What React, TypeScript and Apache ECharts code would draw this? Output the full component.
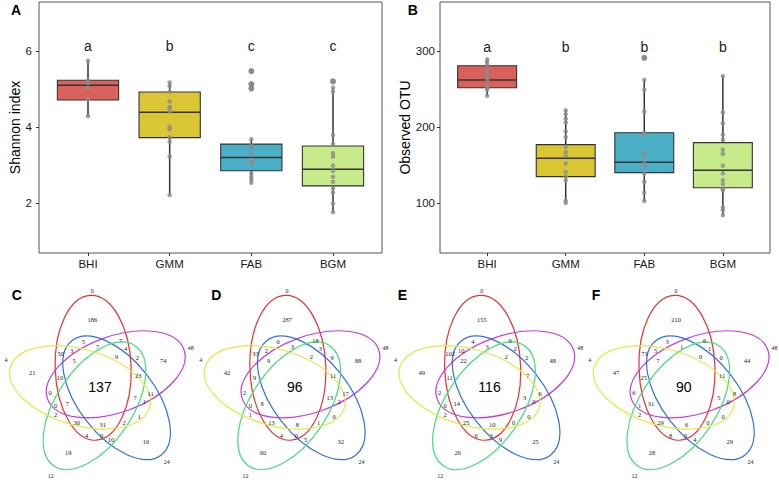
import React, { useEffect, useRef } from 'react';
import * as echarts from 'echarts';

// ---------- Data ----------
const categories = ['BHI', 'GMM', 'FAB', 'BGM'];
const boxColors = ['#D9605B', '#DAC633', '#4AAFC7', '#C7EB8B'];

// Panel A: Shannon index
const shannonLow = [4.29, 2.21, 2.53, 1.76];
const shannonQ1 = [4.71, 3.72, 2.85, 2.45];
const shannonMedian = [5.1, 4.39, 3.2, 2.89];
const shannonQ3 = [5.23, 4.92, 3.55, 3.5];
const shannonHigh = [5.74, 5.17, 3.68, 5.04];
const shannonPoints = [
  [5.74, 5.21, 5.15, 5.02, 4.73, 4.29],
  [5.17, 5.08, 4.93, 4.67, 4.53, 4.49, 4.4, 4.01, 3.94, 3.73, 3.61, 3.22, 2.21],
  [5.47, 5.13, 5.01, 3.68, 3.51, 3.46, 3.29, 3.13, 3.06, 3.02, 2.78, 2.69, 2.61, 2.53],
  [5.2, 5.04, 4.93, 3.79, 3.55, 3.31, 3.22, 2.98, 2.85, 2.69, 2.56, 2.39, 2.27, 1.99, 1.76],
];
const shannonOutliers = [[], [], [5.47, 5.13, 5.01], [5.2]];
const shannonLetters = ['a', 'b', 'c', 'c'];
const shannonLetterY = 6.12;
const shannonTicks = [2, 4, 6];

// Panel B: Observed OTU
const otuLow = [241, 100.4, 102.6, 83.8];
const otuQ1 = [251.7, 134.7, 140, 120];
const otuMedian = [261.8, 158.8, 153.6, 143];
const otuQ3 = [280.7, 176.8, 192.5, 179.4];
const otuHigh = [289, 222, 262, 267];
const otuPoints = [
  [289, 286, 282, 275, 270, 267, 262, 255, 252, 249, 241],
  [222, 217, 211, 206, 194, 186.5, 174, 167, 162, 152, 141, 135, 130, 103, 100],
  [291, 262, 249, 220, 192.5, 189.5, 167.5, 161, 152, 148, 139, 128, 113.6, 102.6],
  [267, 219, 205, 190, 183, 170, 164.5, 149, 139, 130, 124.6, 118, 117, 94, 90.8, 83.8],
];
const otuOutliers = [[], [], [291], []];
const otuLetters = ['a', 'b', 'b', 'b'];
const otuLetterY = 305.7;
const otuTicks = [100, 200, 300];

// Venn diagrams (C-F): set names and region counts
const vennSetNames = ['0', '48', '24', '12', '4'];
const vennSetColors = ['#E8322E', '#C63CDB', '#3470E0', '#45DE7A', '#E0EA48'];
const vennPanelLetters = ['C', 'D', 'E', 'F'];
const vennC = [186, 74, 16, 19, 21, 137, 5, 7, 50, 3, 7, 4, 9, 2, 5, 10, 23, 11, 0, 7, 1, 0, 7, 2, 1, 30, 31, 2, 4, 0, 10];
const vennD = [287, 88, 32, 60, 42, 96, 0, 18, 33, 2, 3, 3, 2, 9, 9, 9, 11, 17, 2, 13, 2, 0, 8, 1, 0, 13, 8, 1, 4, 0, 5];
const vennE = [155, 48, 25, 26, 49, 116, 4, 9, 102, 10, 3, 2, 2, 2, 22, 11, 7, 6, 2, 3, 0, 0, 14, 2, 0, 25, 10, 0, 6, 3, 9];
const vennF = [210, 44, 29, 28, 47, 90, 3, 6, 73, 5, 1, 1, 0, 0, 7, 25, 11, 8, 6, 5, 0, 1, 31, 2, 0, 29, 6, 0, 8, 0, 4];
const vennCounts = [vennC, vennD, vennE, vennF];

// ---------- Layout (Venn template, relative to diagram centre) ----------
const regionOffsets: [number, number][] = [
  [-7.7, -66.7], [63.3, -26], [46, 55], [-31.7, 66], [-67.7, -14], [0, 0],
  [-16.7, -45], [20.7, -46.3], [-39.3, -32.7], [-28.3, -36], [-2.3, -40], [25.7, -37.7],
  [16.7, -30], [37.3, -29.3], [-26, -25.7], [-40, -9.3], [38.3, -11], [50.7, 6.7],
  [-50, 5.7], [35, 10.7], [44.3, 15], [-44.3, 19], [-32.7, 16.7], [-44.3, 28.3],
  [39.3, 30], [-23.3, 36], [2.7, 37.7], [24, 36], [-13.3, 49], [1.7, 48.7], [11, 53.3],
];
const setNameOffsets: [number, number][] = [[-7.7, -96], [90.7, -38.3], [66.7, 75.7], [-49.3, 89.3], [-94, -26.7]];
const vennCentersX = [100, 294.7, 489.5, 683.8];
const vennCenterY = 386.6;

const SANS = '"Liberation Sans", Arial, Helvetica, sans-serif';
const SERIF = '"Liberation Serif", "Times New Roman", serif';
const BOX_WIDTH = 0.75;

function boxSeries(g: number, low: number[], q1: number[], med: number[], q3: number[], high: number[]) {
  return {
    type: 'custom',
    xAxisIndex: g,
    yAxisIndex: g,
    z: 2,
    encode: { x: 0, y: [1, 2, 3, 4, 5] },
    data: categories.map((_, i) => [i + 1, low[i], q1[i], med[i], q3[i], high[i]]),
    renderItem: (params: any, api: any) => {
      const x = api.value(0);
      const idx = params.dataIndex;
      const pLow = api.coord([x, api.value(1)]);
      const pQ1 = api.coord([x, api.value(2)]);
      const pMed = api.coord([x, api.value(3)]);
      const pQ3 = api.coord([x, api.value(4)]);
      const pHigh = api.coord([x, api.value(5)]);
      const half = api.size([BOX_WIDTH, 0])[0] / 2;
      const lineStyle = { stroke: '#333333', lineWidth: 1.5 };
      return {
        type: 'group',
        children: [
          { type: 'line', shape: { x1: pLow[0], y1: pLow[1], x2: pQ1[0], y2: pQ1[1] }, style: lineStyle },
          { type: 'line', shape: { x1: pQ3[0], y1: pQ3[1], x2: pHigh[0], y2: pHigh[1] }, style: lineStyle },
          {
            type: 'rect',
            shape: { x: pQ3[0] - half, y: pQ3[1], width: half * 2, height: pQ1[1] - pQ3[1] },
            style: { fill: boxColors[idx], stroke: '#333333', lineWidth: 1.1 },
          },
          { type: 'line', shape: { x1: pMed[0] - half, y1: pMed[1], x2: pMed[0] + half, y2: pMed[1] }, style: lineStyle },
        ],
      };
    },
  };
}

function letterSeries(g: number, letters: string[], yPos: number) {
  return {
    type: 'custom',
    xAxisIndex: g,
    yAxisIndex: g,
    z: 4,
    encode: { x: 0, y: 1 },
    data: letters.map((_, i) => [i + 1, yPos]),
    renderItem: (params: any, api: any) => {
      const p = api.coord([api.value(0), api.value(1)]);
      return {
        type: 'text',
        x: p[0],
        y: p[1],
        style: {
          text: letters[params.dataIndex],
          fill: '#1a1a1a',
          fontSize: 14,
          fontFamily: SANS,
          align: 'center',
          verticalAlign: 'middle',
          textAlign: 'center',
          textVerticalAlign: 'middle',
        },
      };
    },
  };
}

function pointsData(lists: number[][]) {
  const out: number[][] = [];
  lists.forEach((arr, i) => arr.forEach((v) => out.push([i + 1, v])));
  return out;
}

function xAxisFor(g: number) {
  return {
    type: 'value',
    gridIndex: g,
    min: 0.4,
    max: 4.6,
    axisLine: { show: false, onZero: false },
    splitLine: { show: false },
    axisTick: { show: true, length: 3, lineStyle: { color: '#333', width: 1 }, customValues: [1, 2, 3, 4] },
    axisLabel: {
      customValues: [1, 2, 3, 4],
      formatter: (v: number) => categories[Math.round(v) - 1] || '',
      color: '#1a1a1a',
      fontSize: 11.5,
      fontFamily: SANS,
      margin: 5,
    },
  };
}

function yAxisFor(g: number, min: number, max: number, ticks: number[], name: string, gap: number, labelMargin: number) {
  return {
    type: 'value',
    gridIndex: g,
    min,
    max,
    name,
    nameLocation: 'middle',
    nameGap: gap,
    nameTextStyle: { fontSize: 14, fontFamily: SANS, color: '#000' },
    axisLine: { show: false, onZero: false },
    splitLine: { show: false },
    axisTick: { show: true, length: 3, lineStyle: { color: '#333', width: 1 }, customValues: ticks },
    axisLabel: { customValues: ticks, color: '#1a1a1a', fontSize: 11.5, fontFamily: SANS, margin: labelMargin },
  };
}

function buildGraphics() {
  const els: any[] = [];
  const panelLetters: [string, number, number][] = [
    ['A', 16, 10], ['B', 412.8, 10], ['C', 16.7, 295], ['D', 216.3, 295], ['E', 402.3, 295], ['F', 596, 295],
  ];
  panelLetters.forEach(([t, x, y]) => {
    els.push({
      type: 'text', x, y, silent: true,
      style: { text: t, fontSize: 14, fontWeight: 'bold', fontFamily: SANS, fill: '#000', align: 'center', verticalAlign: 'middle', textAlign: 'center', textVerticalAlign: 'middle' },
    });
  });
  const R = 20;
  const th0 = -20;
  const ph0 = -2;
  vennCentersX.forEach((cx, p) => {
    for (let k = 0; k < 5; k++) {
      const th = ((th0 + 72 * k) * Math.PI) / 180;
      const ph = ((ph0 + 72 * k) * Math.PI) / 180;
      els.push({
        type: 'ellipse',
        x: cx + R * Math.sin(th),
        y: vennCenterY - R * Math.cos(th),
        rotation: -ph,
        silent: true,
        shape: { cx: 0, cy: 0, rx: 38, ry: 72.5 },
        style: { fill: 'none', stroke: vennSetColors[k], lineWidth: 1.2 },
      });
      const [ox, oy] = setNameOffsets[k];
      els.push({
        type: 'text', x: cx + ox, y: vennCenterY + oy, silent: true,
        style: { text: vennSetNames[k], fontSize: 6, fontFamily: SERIF, fill: '#222', align: 'center', verticalAlign: 'middle', textAlign: 'center', textVerticalAlign: 'middle' },
      });
    }
    const counts = vennCounts[p];
    counts.forEach((c, i) => {
      const [ox, oy] = regionOffsets[i];
      const central = i === 5;
      els.push({
        type: 'text', x: cx + ox, y: vennCenterY + oy, silent: true,
        style: {
          text: String(c),
          fontSize: central ? 14 : 6.5,
          fontFamily: central ? SANS : SERIF,
          fill: central ? '#000' : '#222',
          align: 'center', verticalAlign: 'middle', textAlign: 'center', textVerticalAlign: 'middle',
        },
      });
    });
  });
  return els;
}

export default function App() {
  const ref = useRef<HTMLDivElement>(null);
  useEffect(() => {
    if (!ref.current) return;
    const chart = echarts.init(ref.current, null, { renderer: 'svg' });
    const option: any = {
      animation: false,
      backgroundColor: '#ffffff',
      grid: [
        { left: 39, top: 2, width: 343, height: 251, show: true, borderColor: '#555', borderWidth: 1, backgroundColor: 'transparent' },
        { left: 440, top: 2, width: 330, height: 251, show: true, borderColor: '#555', borderWidth: 1, backgroundColor: 'transparent' },
      ],
      xAxis: [xAxisFor(0), xAxisFor(1)],
      yAxis: [
        yAxisFor(0, 0.684, 7.289, shannonTicks, 'Shannon index', 16, 7),
        yAxisFor(1, 34.2, 364.5, otuTicks, 'Observed OTU', 27, 5),
      ],
      series: [
        boxSeries(0, shannonLow, shannonQ1, shannonMedian, shannonQ3, shannonHigh),
        boxSeries(1, otuLow, otuQ1, otuMedian, otuQ3, otuHigh),
        {
          type: 'scatter', xAxisIndex: 0, yAxisIndex: 0, z: 3, symbolSize: 6,
          itemStyle: { color: '#6f6f6f' }, data: pointsData(shannonOutliers),
        },
        {
          type: 'scatter', xAxisIndex: 1, yAxisIndex: 1, z: 3, symbolSize: 6,
          itemStyle: { color: '#6f6f6f' }, data: pointsData(otuOutliers),
        },
        {
          type: 'scatter', xAxisIndex: 0, yAxisIndex: 0, z: 3, symbolSize: 4.5,
          itemStyle: { color: '#8c8c8c' }, data: pointsData(shannonPoints),
        },
        {
          type: 'scatter', xAxisIndex: 1, yAxisIndex: 1, z: 3, symbolSize: 4.5,
          itemStyle: { color: '#8c8c8c' }, data: pointsData(otuPoints),
        },
        letterSeries(0, shannonLetters, shannonLetterY),
        letterSeries(1, otuLetters, otuLetterY),
      ],
      graphic: buildGraphics(),
    };
    chart.setOption(option);
    return () => chart.dispose();
  }, []);
  return (
    <div
      ref={ref}
      style={{ position: 'fixed', left: 0, top: 0, width: 779, height: 483, background: '#fff' }}
    />
  );
}
